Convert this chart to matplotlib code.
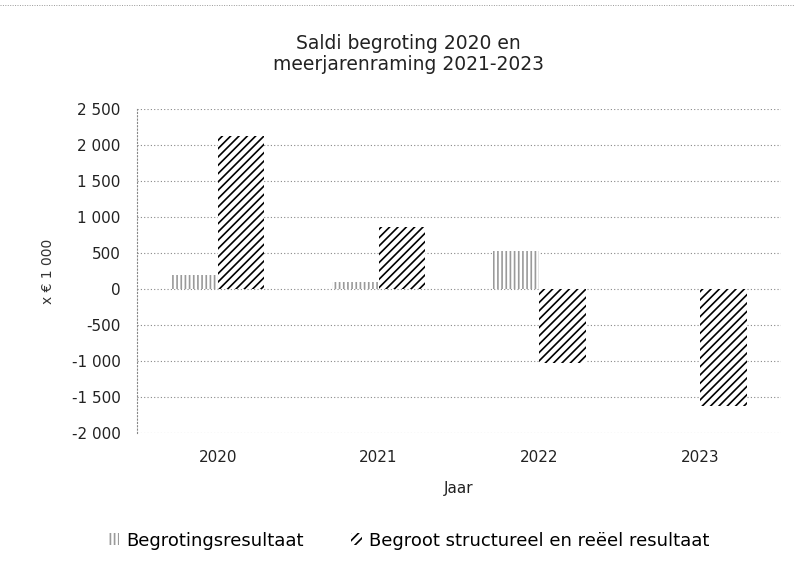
import numpy as np
import matplotlib.pyplot as plt
from matplotlib.lines import Line2D
from matplotlib.ticker import FuncFormatter

plt.rcParams['font.family'] = ['DejaVu Sans']
plt.rcParams['hatch.linewidth'] = 1.2

# data (x EUR 1 000)
years = ['2020', '2021', '2022', '2023']
begrotingsresultaat = [200, 100, 530, 0]
structureel = [2130, 870, -1030, -1620]

fig = plt.figure(figsize=(7.94, 5.69), dpi=100)
ax = fig.add_axes([0.173, 0.239, 0.81, 0.569])

x = np.arange(len(years))
w = 0.29

ax.bar(x - w / 2, begrotingsresultaat, w, color='white', edgecolor='#9a9a9a',
       hatch='||||', linewidth=0, label='Begrotingsresultaat')
ax.bar(x + w / 2, structureel, w, color='white', edgecolor='black',
       hatch='////', linewidth=0, label='Begroot structureel en reëel resultaat')

ax.set_ylim(-2000, 2500)
ax.set_xlim(-0.5, len(years) - 0.5)
ax.set_yticks(np.arange(-2000, 2501, 500))
ax.yaxis.set_major_formatter(FuncFormatter(lambda v, p: f'{int(v):,}'.replace(',', ' ')))
ax.set_xticks(x)
ax.set_xticklabels(years)

ax.grid(axis='y', linestyle=(0, (1, 2)), color='#888888', linewidth=0.8)
ax.set_axisbelow(True)
for s in ['top', 'right', 'bottom']:
    ax.spines[s].set_visible(False)
ax.spines['left'].set_linestyle((0, (1, 2)))
ax.spines['left'].set_color('#888888')
ax.tick_params(axis='both', length=0, labelsize=11, colors='#222222', pad=12)
ax.tick_params(axis='x', pad=12)

ax.set_xlabel('Jaar', fontsize=11, labelpad=12, color='#222222')
ax.set_ylabel('x € 1 000', fontsize=10, color='#333333', labelpad=12)
fig.text(0.514, 0.905, 'Saldi begroting 2020 en\nmeerjarenraming 2021-2023',
         ha='center', va='center', fontsize=13.5, color='#222222', linespacing=1.15)

ax.legend(loc='center', bbox_to_anchor=(0.515, 0.05), bbox_transform=fig.transFigure,
          ncol=2, frameon=False, fontsize=13, handlelength=0.6, handleheight=0.6,
          columnspacing=2.6, handletextpad=0.4)

fig.add_artist(Line2D([0.0, 1.0], [0.992, 0.992], color='#999999',
                      linestyle=(0, (1, 1.5)), linewidth=0.7))

fig.savefig('out.png', dpi=100)
